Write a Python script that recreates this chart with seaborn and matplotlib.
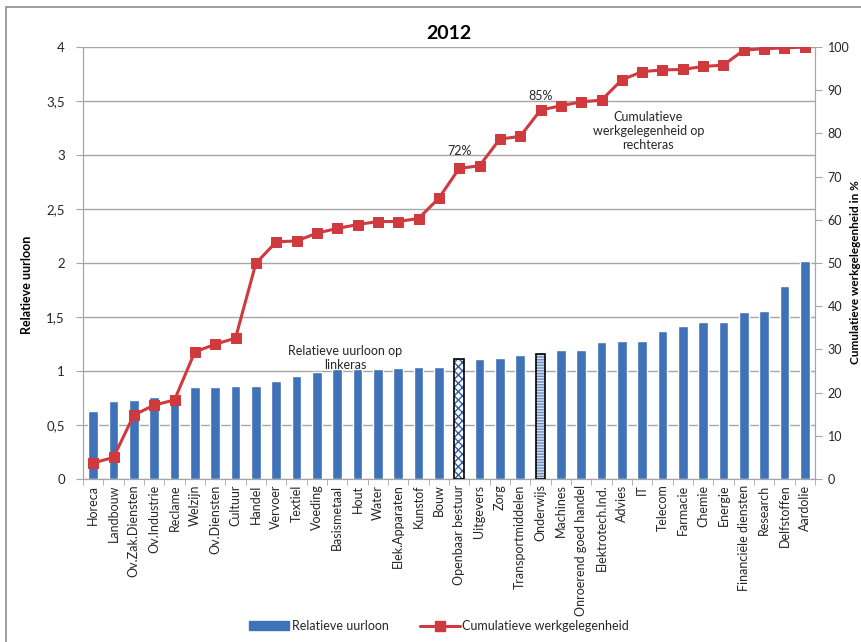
import numpy as np
import matplotlib
matplotlib.use("Agg")
import matplotlib.pyplot as plt
import seaborn as sns
from matplotlib.patches import Patch, Rectangle
from matplotlib.lines import Line2D
from matplotlib.ticker import FixedLocator

# Sectors, sorted by relative hourly wage
sectors = ['Horeca', 'Landbouw', 'Ov.Zak.Diensten', 'Ov.Industrie', 'Reclame', 'Welzijn',
           'Ov.Diensten', 'Cultuur', 'Handel', 'Vervoer', 'Textiel', 'Voeding', 'Basismetaal',
           'Hout', 'Water', 'Elek.Apparaten', 'Kunstof', 'Bouw', 'Openbaar bestuur', 'Uitgevers',
           'Zorg', 'Transportmiddelen', 'Onderwijs', 'Machines', 'Onroerend goed handel',
           'Elektrotech.Ind.', 'Advies', 'IT', 'Telecom', 'Farmacie', 'Chemie', 'Energie',
           'Financiële diensten', 'Research', 'Delfstoffen', 'Aardolie']

# Relative hourly wage (left axis)
rel_wage = [0.63, 0.72, 0.73, 0.76, 0.75, 0.855, 0.855, 0.86, 0.86, 0.91, 0.95, 0.99, 1.02,
            1.02, 1.02, 1.03, 1.04, 1.04, 1.11, 1.115, 1.12, 1.15, 1.16, 1.19, 1.19,
            1.27, 1.28, 1.28, 1.37, 1.42, 1.45, 1.45, 1.545, 1.56, 1.785, 2.015]

# Cumulative employment in % (right axis)
cum_emp = [3.7, 5.0, 14.8, 17.1, 18.3, 29.4, 31.2, 32.6, 49.9, 54.9, 55.1, 56.9, 58.0,
           58.9, 59.6, 59.6, 60.3, 65.0, 71.9, 72.5, 78.7, 79.3, 85.4, 86.4, 87.3,
           87.7, 92.4, 94.3, 94.7, 94.8, 95.5, 95.8, 99.3, 99.6, 99.8, 100.0]

left_ticks = [0, 0.5, 1, 1.5, 2, 2.5, 3, 3.5, 4]
left_labels = ['0', '0,5', '1', '1,5', '2', '2,5', '3', '3,5', '4']
right_ticks = [0, 10, 20, 30, 40, 50, 60, 70, 80, 90, 100]

bar_blue = '#3f72b8'
line_red = '#cf3a3e'
grid_grey = '#a6a6a6'
text_col = '#262626'

sns.set_style('white')
plt.rcParams['font.family'] = ['Lato', 'DejaVu Sans']

fig = plt.figure(figsize=(8.61, 6.42), dpi=100)
ax = fig.add_axes([83 / 861, 1 - 479 / 642, (815 - 83) / 861, (479 - 47) / 642])

sns.barplot(x=sectors, y=rel_wage, color=bar_blue, saturation=1, width=0.47, ax=ax)

# highlight two sectors with patterns
special = {'Openbaar bestuur': ('#ffffff', '#2f5fa8', 'xxxx'),
           'Onderwijs': ('#d6e2f2', '#6a8cc0', '------')}
for name, (fc, hc, hatch) in special.items():
    p = ax.patches[sectors.index(name)]
    p.set_facecolor(fc)
    p.set_edgecolor(hc)
    p.set_hatch(hatch)
    p.set_linewidth(0)
    ax.add_patch(Rectangle((p.get_x(), p.get_y()), p.get_width(), p.get_height(),
                           fill=False, edgecolor='black', linewidth=1.2, zorder=3))

ax.set_ylim(0, 4)
ax.set_xlim(-0.5, len(sectors) - 0.5)
ax.set_yticks(left_ticks)
ax.set_yticklabels(left_labels, fontsize=9.5, color=text_col)
ax.yaxis.grid(True, color=grid_grey, linewidth=1)
ax.set_axisbelow(True)
ax.set_xlabel('')
ax.set_ylabel('Relatieve uurloon', fontsize=9, fontweight='bold', color='black')
ax.yaxis.set_label_coords(-0.068, 0.45)
ax.tick_params(axis='x', length=0, pad=4)
ax.set_xticks(range(len(sectors)))
ax.set_xticklabels(sectors, rotation=90, fontsize=9, color=text_col)
ax.xaxis.set_minor_locator(FixedLocator(np.arange(-0.5, len(sectors), 1)))
ax.tick_params(axis='x', which='minor', length=4, color=grid_grey, bottom=True)
ax.tick_params(axis='y', length=5, color=grid_grey, left=True, pad=8)
for s in ['left', 'bottom', 'right']:
    ax.spines[s].set_color(grid_grey)
ax.spines['top'].set_visible(False)

ax2 = ax.twinx()
sns.lineplot(x=np.arange(len(sectors)), y=cum_emp, ax=ax2, color=line_red, linewidth=2.2,
             marker='s', markersize=7.5, markeredgecolor=line_red, legend=False)
ax2.set_ylim(0, 100)
ax2.set_xlim(-0.5, len(sectors) - 0.5)
ax2.set_yticks(right_ticks)
ax2.set_yticklabels([str(t) for t in right_ticks], fontsize=9, color=text_col)
ax2.tick_params(axis='y', length=5, color=grid_grey, right=True, pad=4)
ax2.set_ylabel('Cumulatieve werkgelegenheid in %', fontsize=8.5, fontweight='bold',
               color='black', rotation=90)
ax2.yaxis.set_label_coords(1.048, 0.48)
for s in ['left', 'bottom', 'right']:
    ax2.spines[s].set_color(grid_grey)
ax2.spines['top'].set_visible(False)

# annotations
i_ob = sectors.index('Openbaar bestuur')
i_on = sectors.index('Onderwijs')
ax2.annotate('72%', (i_ob, cum_emp[i_ob]), xytext=(0, 8), textcoords='offset points',
             ha='center', va='bottom', fontsize=9, color=text_col)
ax2.annotate('85%', (i_on, cum_emp[i_on]), xytext=(0, 6), textcoords='offset points',
             ha='center', va='bottom', fontsize=9, color=text_col)
ax.text(12.4, 1.12, 'Relatieve uurloon op\nlinkeras', ha='center', va='center',
        fontsize=9, color=text_col, linespacing=1.2)
ax2.text(27.3, 80.5, 'Cumulatieve\nwerkgelegenheid op\nrechteras', ha='center', va='center',
         fontsize=9, color=text_col, linespacing=1.2)

ax.set_title('2012', fontsize=14, fontweight='bold', color='black', pad=6)

handles = [Patch(facecolor=bar_blue, edgecolor=bar_blue),
           Line2D([0], [0], color=line_red, linewidth=2.2, marker='s', markersize=7)]
fig.legend(handles, ['Relatieve uurloon', 'Cumulatieve werkgelegenheid'], loc='center',
           bbox_to_anchor=(0.51, 0.025), ncol=2, frameon=False, fontsize=9,
           handlelength=3.2, columnspacing=2.5, handletextpad=0.2)

# outer chart border (right/bottom edges fall outside the crop)
fig.patches.append(Rectangle((6 / 861, -0.1), 1.2, 1.1 - 7 / 642, transform=fig.transFigure,
                             fill=False, edgecolor='#8c8c8c', linewidth=1.2))

fig.savefig('out.png', dpi=100)
